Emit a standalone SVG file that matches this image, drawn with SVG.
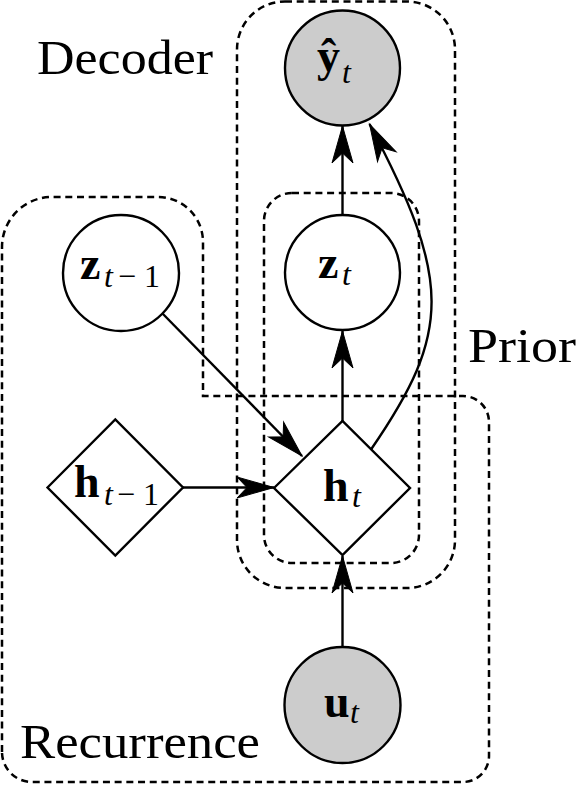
<svg xmlns="http://www.w3.org/2000/svg" width="581" height="786" viewBox="0 0 581 786">
<style>
.grp{fill:none;stroke:#000;stroke-width:2.5;stroke-dasharray:7 4.7}
.node{stroke:#000;stroke-width:2.4}
.obs{fill:#cccccc}
.lat{fill:#fff}
.edge{fill:none;stroke:#000;stroke-width:2.4;marker-end:url(#arr)}
.lbl{font-family:"Liberation Serif","Times New Roman",serif;font-size:48px;fill:#000}
.m{font-family:"Liberation Serif","Times New Roman",serif;fill:#000}
.b{font-weight:bold;font-size:46px}
.s{font-style:italic;font-size:32px}
.r{font-size:32px}
</style>
<defs>
<marker id="arr" markerUnits="userSpaceOnUse" markerWidth="40" markerHeight="24" refX="0" refY="0" orient="auto" overflow="visible">
<path d="M0,0 L-37,-10.5 L-27,0 L-37,10.5 Z" fill="#000" stroke="#000" stroke-width="1" stroke-linejoin="miter"/>
</marker>
</defs>
<g id="groups">
<g id="group-decoder">
<rect class="grp" x="237" y="1.5" width="218" height="586.5" rx="48" ry="48"/>
<text class="lbl" x="37" y="74" textLength="176" lengthAdjust="spacingAndGlyphs">Decoder</text>
</g>
<g id="group-prior">
<rect class="grp" x="264" y="193" width="155" height="370" rx="28" ry="28"/>
<text class="lbl" x="468" y="361.5" textLength="108" lengthAdjust="spacingAndGlyphs">Prior</text>
</g>
<g id="group-recurrence">
<path class="grp" d="M2,752 L2,247 A50,50 0 0 1 52,197 L158,197 A45,45 0 0 1 203,242 L203,396 L463,396 A26,26 0 0 1 489,422 L489,756 A26,26 0 0 1 463,782 L32,782 A30,30 0 0 1 2,752 Z"/>
<text class="lbl" x="20" y="757.5" textLength="240" lengthAdjust="spacingAndGlyphs">Recurrence</text>
</g>
</g>
<g id="connectors">
<path class="edge" d="M342.5,214.5 L342.5,126"/>
<path class="edge" d="M371,449.5 C452,332 452,280 369.5,124"/>
<path class="edge" d="M342.5,421 L342.5,331"/>
<path class="edge" d="M162.5,313.5 L302,456"/>
<path class="edge" d="M183,487.5 L274,487.5"/>
<path class="edge" d="M342.5,647 L342.5,556"/>
</g>
<g id="node-yhat">
<circle class="node obs" cx="342.5" cy="68" r="57.5"/>
<text class="m"><tspan class="b" x="317" y="70.7">ŷ</tspan><tspan class="s" x="342" y="82.7">t</tspan></text>
</g>
<g id="node-z">
<circle class="node lat" cx="342.5" cy="272.5" r="57.5"/>
<text class="m"><tspan class="b" x="318" y="278.3">z</tspan><tspan class="s" x="342" y="285">t</tspan></text>
</g>
<g id="node-zprev">
<circle class="node lat" cx="121" cy="273" r="58"/>
<text class="m"><tspan class="b" x="80" y="279">z</tspan><tspan class="s" x="104" y="286.7">t</tspan><tspan class="r" x="118" y="286.7">−</tspan><tspan class="r" x="144" y="286.7">1</tspan></text>
</g>
<g id="node-hprev">
<path class="node lat" d="M47.5,487.5 L115.3,419.5 L183,487.5 L115.3,555.5 Z"/>
<text class="m"><tspan class="b" x="74" y="497.3">h</tspan><tspan class="s" x="104" y="505">t</tspan><tspan class="r" x="117" y="505">−</tspan><tspan class="r" x="143" y="505">1</tspan></text>
</g>
<g id="node-h">
<path class="node lat" d="M274,488 L342.5,421 L410,488 L342.5,555 Z"/>
<text class="m"><tspan class="b" x="323" y="500.7">h</tspan><tspan class="s" x="352" y="506.7">t</tspan></text>
</g>
<g id="node-u">
<circle class="node obs" cx="342.5" cy="705" r="58"/>
<text class="m"><tspan class="b" x="324" y="717.3">u</tspan><tspan class="s" x="350" y="723.3">t</tspan></text>
</g>
</svg>
